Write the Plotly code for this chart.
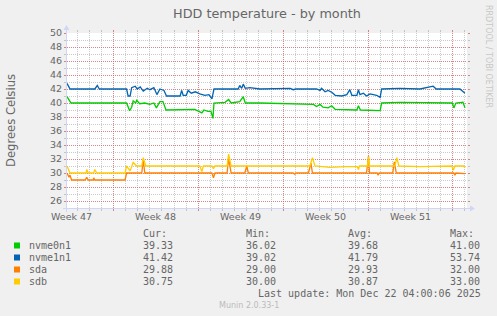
import plotly.graph_objects as go

# ---------------- layout constants ----------------
W, H = 497, 316
L, T, PW, PH = 67, 33, 400, 175
R = W - L - PW
B = H - T - PH

X_START = "2025-11-19 04:00"
X_END = "2025-12-22 04:00"
Y_MIN, Y_MAX = 25, 50

TITLE = "HDD temperature - by month"
Y_TITLE = "Degrees Celsius"
WATERMARK = "RRDTOOL / TOBI OETIKER"
FOOTER = "Munin 2.0.33-1"
LAST_UPDATE = "Last update: Mon Dec 22 04:00:06 2025"

# weekly (Sunday) major grid, label at mid-week
major_ticks = ["2025-11-23", "2025-11-30", "2025-12-07", "2025-12-14", "2025-12-21"]
week_label_pos = ["2025-11-19 12:00", "2025-11-26 12:00", "2025-12-03 12:00",
                  "2025-12-10 12:00", "2025-12-17 12:00"]
week_labels = ["Week 47", "Week 48", "Week 49", "Week 50", "Week 51"]
y_ticks = list(range(26, 51, 2))

# ---------------- data ----------------
names = ["nvme0n1", "nvme1n1", "sda", "sdb"]
colors = ["#00CC00", "#0066B3", "#FF8000", "#FFCC00"]
cur = [39.33, 41.42, 29.88, 30.75]
mins = [36.02, 39.02, 29.00, 30.00]
avgs = [39.68, 41.79, 29.93, 30.87]
maxs = [41.00, 53.74, 32.00, 33.00]

t_nvme0n1 = ["2025-11-19 04:00", "2025-11-19 12:00", "2025-11-24 02:00", "2025-11-24 04:00",
             "2025-11-24 08:00", "2025-11-24 12:00", "2025-11-24 15:00", "2025-11-24 20:00",
             "2025-11-24 22:00", "2025-11-25 04:00", "2025-11-25 14:00", "2025-11-26 00:00",
             "2025-11-26 08:00", "2025-11-26 13:00", "2025-11-26 20:00", "2025-11-27 02:00",
             "2025-11-27 08:00", "2025-11-29 17:00", "2025-11-30 07:00", "2025-11-30 11:00",
             "2025-11-30 19:00", "2025-12-01 01:00", "2025-12-01 05:00", "2025-12-01 07:00",
             "2025-12-02 05:00", "2025-12-02 12:00", "2025-12-02 17:00", "2025-12-03 10:00",
             "2025-12-03 17:00", "2025-12-03 21:00", "2025-12-05 02:00", "2025-12-09 12:00",
             "2025-12-09 18:00", "2025-12-10 01:00", "2025-12-10 07:00", "2025-12-10 17:00",
             "2025-12-11 00:00", "2025-12-11 07:00", "2025-12-13 02:00", "2025-12-13 05:00",
             "2025-12-13 09:00", "2025-12-15 00:00", "2025-12-15 03:00", "2025-12-16 15:00",
             "2025-12-20 23:00", "2025-12-21 02:00", "2025-12-21 06:00", "2025-12-21 20:00",
             "2025-12-22 00:00"]
v_nvme0n1 = [40.9, 40.0, 40.0, 39.6,
             38.9, 39.4, 40.3, 40.0,
             40.4, 39.9, 40.0, 39.8,
             40.0, 39.3, 40.2, 40.2,
             39.0, 39.1, 38.6, 39.0,
             38.8, 38.8, 37.8, 40.0,
             40.1, 40.5, 40.0, 40.2,
             40.9, 40.0, 40.0, 39.8,
             39.5, 39.8, 39.4, 39.3,
             39.6, 39.1, 39.0, 39.6,
             39.0, 38.9, 40.0, 40.1,
             40.0, 39.3, 40.0, 40.1,
             39.3]

t_nvme1n1 = ["2025-11-19 04:00", "2025-11-19 10:00", "2025-11-21 11:00", "2025-11-21 16:00",
             "2025-11-21 20:00", "2025-11-24 02:00", "2025-11-24 05:00", "2025-11-24 09:00",
             "2025-11-24 12:00", "2025-11-24 19:00", "2025-11-24 23:00", "2025-11-25 05:00",
             "2025-11-25 11:00", "2025-11-25 19:00", "2025-11-26 00:00", "2025-11-26 08:00",
             "2025-11-26 14:00", "2025-11-26 20:00", "2025-11-27 04:00", "2025-11-27 09:00",
             "2025-11-28 12:00", "2025-11-28 15:00", "2025-11-28 18:00", "2025-11-29 00:00",
             "2025-11-29 04:00", "2025-11-29 10:00", "2025-11-29 18:00", "2025-11-30 03:00",
             "2025-11-30 13:00", "2025-11-30 21:00", "2025-12-01 03:00", "2025-12-01 07:00",
             "2025-12-03 07:00", "2025-12-03 10:00", "2025-12-03 14:00", "2025-12-03 17:00",
             "2025-12-03 21:00", "2025-12-04 06:00", "2025-12-05 02:00", "2025-12-07 14:00",
             "2025-12-07 20:00", "2025-12-08 01:00", "2025-12-09 18:00", "2025-12-10 01:00",
             "2025-12-10 04:00", "2025-12-10 11:00", "2025-12-10 17:00", "2025-12-11 01:00",
             "2025-12-11 07:00", "2025-12-11 20:00", "2025-12-12 06:00", "2025-12-12 12:00",
             "2025-12-12 16:00", "2025-12-13 02:00", "2025-12-13 05:00", "2025-12-13 08:00",
             "2025-12-13 15:00", "2025-12-13 21:00", "2025-12-14 04:00", "2025-12-14 17:00",
             "2025-12-15 00:00", "2025-12-15 03:00", "2025-12-16 15:00", "2025-12-18 07:00",
             "2025-12-19 09:00", "2025-12-19 15:00", "2025-12-21 14:00", "2025-12-22 00:00"]
v_nvme1n1 = [42.8, 42.0, 42.0, 42.5,
             42.0, 42.0, 41.0, 41.0,
             42.2, 42.4, 42.0, 42.3,
             41.7, 42.1, 41.9, 42.2,
             41.2, 42.0, 41.8, 41.0,
             41.0, 41.8, 41.1, 41.1,
             41.8, 41.4, 41.6, 41.3,
             41.1, 41.2, 40.6, 42.0,
             42.0, 42.5, 42.1, 42.7,
             42.1, 42.2, 42.0, 42.1,
             41.9, 42.0, 42.0, 41.8,
             42.1, 41.6, 41.8, 41.5,
             41.1, 41.0, 41.2, 41.9,
             41.1, 41.1, 41.9, 41.2,
             41.4, 41.0, 41.3, 41.1,
             40.8, 42.0, 42.1, 42.0,
             42.4, 42.0, 42.0, 41.4]

t_sda = ["2025-11-19 04:00", "2025-11-19 08:00", "2025-11-19 10:00", "2025-11-19 13:00",
         "2025-11-20 16:00", "2025-11-20 19:00", "2025-11-20 22:00", "2025-11-21 08:00",
         "2025-11-21 09:00", "2025-11-21 11:00", "2025-11-23 23:00", "2025-11-24 02:00",
         "2025-11-25 08:00", "2025-11-25 11:00", "2025-11-25 14:00", "2025-12-01 03:00",
         "2025-12-01 06:00", "2025-12-01 09:00", "2025-12-02 09:00", "2025-12-02 12:00",
         "2025-12-02 17:00", "2025-12-03 20:00", "2025-12-04 00:00", "2025-12-04 03:00",
         "2025-12-07 20:00", "2025-12-07 23:00", "2025-12-08 01:00", "2025-12-09 02:00",
         "2025-12-09 07:00", "2025-12-09 10:00", "2025-12-13 21:00", "2025-12-14 01:00",
         "2025-12-14 03:00", "2025-12-14 18:00", "2025-12-14 20:00", "2025-12-14 22:00",
         "2025-12-16 01:00", "2025-12-16 04:00", "2025-12-16 08:00", "2025-12-21 02:00",
         "2025-12-21 04:00", "2025-12-21 06:00", "2025-12-22 00:00"]
v_sda = [30.0, 29.4, 29.7, 29.0,
         29.0, 29.4, 29.0, 29.0,
         29.3, 29.0, 29.0, 30.0,
         30.0, 31.9, 30.0, 30.0,
         29.3, 30.0, 30.0, 32.1,
         30.0, 30.0, 31.0, 30.0,
         30.0, 29.8, 30.0, 30.0,
         31.4, 30.0, 30.0, 32.4,
         30.0, 30.0, 29.7, 30.0,
         30.0, 31.6, 30.0, 30.0,
         29.7, 30.0, 29.9]

t_sdb = ["2025-11-19 04:00", "2025-11-19 10:00", "2025-11-20 18:00", "2025-11-20 19:00",
         "2025-11-20 22:00", "2025-11-21 09:00", "2025-11-21 11:00", "2025-11-21 15:00",
         "2025-11-23 21:00", "2025-11-23 23:00", "2025-11-24 02:00", "2025-11-24 09:00",
         "2025-11-24 15:00", "2025-11-24 22:00", "2025-11-25 08:00", "2025-11-25 11:00",
         "2025-11-25 16:00", "2025-11-30 03:00", "2025-11-30 07:00", "2025-11-30 10:00",
         "2025-12-01 03:00", "2025-12-01 06:00", "2025-12-01 09:00", "2025-12-02 09:00",
         "2025-12-02 12:00", "2025-12-02 17:00", "2025-12-09 05:00", "2025-12-09 10:00",
         "2025-12-09 15:00", "2025-12-10 21:00", "2025-12-12 03:00", "2025-12-13 03:00",
         "2025-12-13 05:00", "2025-12-13 07:00", "2025-12-13 23:00", "2025-12-14 01:00",
         "2025-12-14 03:00", "2025-12-16 05:00", "2025-12-16 09:00", "2025-12-16 13:00",
         "2025-12-18 07:00", "2025-12-20 22:00", "2025-12-21 01:00", "2025-12-21 04:00",
         "2025-12-21 21:00", "2025-12-22 00:00"]
v_sdb = [31.0, 30.0, 30.0, 30.5,
         30.0, 30.0, 30.5, 30.0,
         30.0, 30.0, 31.0, 30.3,
         31.5, 31.0, 31.0, 32.2,
         31.0, 31.0, 30.2, 31.0,
         31.0, 30.6, 31.0, 31.0,
         32.7, 31.0, 31.0, 32.2,
         31.0, 30.8, 30.9, 30.9,
         30.5, 31.0, 31.0, 32.3,
         31.0, 31.0, 32.2, 31.0,
         30.9, 31.0, 30.4, 31.0,
         31.0, 30.75]

series_t = [t_nvme0n1, t_nvme1n1, t_sda, t_sdb]
series_v = [v_nvme0n1, v_nvme1n1, v_sda, v_sdb]

# ---------------- style ----------------
BG = "#F0F0F0"
FONT_COLOR = "#666666"
AXIS_COLOR = "#CFD6F8"
MGRID = "rgba(222,79,79,0.55)"
GRID = "rgba(150,150,150,0.5)"
SANS = "DejaVu Sans"
MONO = "DejaVu Sans Mono"


def px(xp):
    return (xp - L) / PW


def py(yp):
    return (T + PH - yp) / PH


fig = go.Figure()
for n, c, tt, vv in zip(names, colors, series_t, series_v):
    fig.add_trace(go.Scatter(x=tt, y=vv, mode="lines", name=n,
                             line=dict(color=c, width=1.3), showlegend=False,
                             hoverinfo="skip"))

fig.update_layout(
    width=W, height=H,
    margin=dict(l=L, r=R, t=T, b=B, pad=0),
    paper_bgcolor=BG, plot_bgcolor="#FFFFFF",
    font=dict(family=SANS, color=FONT_COLOR, size=9.5),
    title=dict(text=TITLE, x=0.5, xref="paper", xanchor="center",
               y=1 - 13.3 / H, yref="container", yanchor="middle",
               font=dict(family=SANS, size=12.8, color=FONT_COLOR)),
    xaxis=dict(type="date", range=[X_START, X_END], showline=False, zeroline=False,
               tickmode="array", tickvals=major_ticks, showticklabels=False,
               showgrid=True, gridcolor=MGRID, griddash="1px,1px", gridwidth=1,
               ticks="outside", ticklen=2, tickcolor=MGRID, mirror="ticks",
               minor=dict(dtick=86400000, tick0="2025-11-20 00:00", showgrid=True,
                          gridcolor=GRID, griddash="1px,1px", gridwidth=1,
                          ticks="outside", ticklen=2, tickcolor=GRID)),
    yaxis=dict(range=[Y_MIN, Y_MAX], showline=False, zeroline=False,
               tickmode="array", tickvals=y_ticks,
               showgrid=True, gridcolor=MGRID, griddash="1px,1px", gridwidth=1,
               ticks="outside", ticklen=2, tickcolor=MGRID, mirror="ticks",
               tickfont=dict(family=SANS, size=9.5, color=FONT_COLOR),
               minor=dict(dtick=1, tick0=25, showgrid=True, gridcolor=GRID,
                          griddash="1px,1px", gridwidth=1,
                          ticks="outside", ticklen=2, tickcolor=GRID)),
)

# axis lines with arrows (rrdtool style)
shapes = [
    dict(type="line", xref="paper", yref="paper", x0=px(63), x1=px(471),
         y0=py(208.5), y1=py(208.5), line=dict(color=AXIS_COLOR, width=1)),
    dict(type="line", xref="paper", yref="paper", x0=px(66.5), x1=px(66.5),
         y0=py(212), y1=py(29), line=dict(color=AXIS_COLOR, width=1)),
    dict(type="path", xref="paper", yref="paper",
         path=f"M {px(475)} {py(208.5)} L {px(470)} {py(205.5)} L {px(470)} {py(211.5)} Z",
         fillcolor=AXIS_COLOR, line=dict(color=AXIS_COLOR, width=0)),
    dict(type="path", xref="paper", yref="paper",
         path=f"M {px(66.5)} {py(25)} L {px(63.5)} {py(30)} L {px(69.5)} {py(30)} Z",
         fillcolor=AXIS_COLOR, line=dict(color=AXIS_COLOR, width=0)),
]

ann = []
# week labels on the time axis (centered mid-week)
for wp, wl in zip(week_label_pos, week_labels):
    ann.append(dict(text=wl, xref="x", yref="paper", x=wp, y=py(216.5),
                    xanchor="center", yanchor="middle", showarrow=False,
                    font=dict(family=SANS, size=9.5, color=FONT_COLOR)))
# y-axis title
ann.append(dict(text=Y_TITLE, xref="paper", yref="paper", x=px(10.5), y=0.5,
                xanchor="center", yanchor="middle", textangle=-90, showarrow=False,
                font=dict(family=SANS, size=11.6, color=FONT_COLOR)))
# watermark
ann.append(dict(text=WATERMARK, xref="paper", yref="paper", x=px(488.5), y=py(56.5),
                xanchor="center", yanchor="middle", textangle=90, showarrow=False,
                font=dict(family=SANS, size=8, color="#C8C8C8")))

# legend table
col_x = [140.7, 243.7, 346.0, 447.7]
headers = ["Cur:", "Min:", "Avg:", "Max:"]
header_y = 233.3
row_y0, row_dy = 245.5, 12.0
mono = dict(family=MONO, size=10, color=FONT_COLOR)
for hx, htxt in zip(col_x, headers):
    ann.append(dict(text=htxt, xref="paper", yref="paper", x=px(hx), y=py(header_y),
                    xanchor="left", yanchor="middle", showarrow=False, font=mono))
for i, n in enumerate(names):
    yy = row_y0 + i * row_dy
    shapes.append(dict(type="rect", xref="paper", yref="paper",
                       x0=px(14), x1=px(20), y0=py(yy - 3), y1=py(yy + 3),
                       fillcolor=colors[i], line=dict(width=0)))
    ann.append(dict(text=n, xref="paper", yref="paper", x=px(26.7), y=py(yy),
                    xanchor="left", yanchor="middle", showarrow=False, font=mono))
    for cx, vals in zip(col_x, [cur, mins, avgs, maxs]):
        ann.append(dict(text=f"{vals[i]:.2f}", xref="paper", yref="paper", x=px(cx),
                        y=py(yy), xanchor="left", yanchor="middle", showarrow=False,
                        font=mono))
ann.append(dict(text=LAST_UPDATE, xref="paper", yref="paper", x=px(483.3), y=py(293.7),
                xanchor="right", yanchor="middle", showarrow=False, font=mono))
ann.append(dict(text=FOOTER, xref="paper", yref="paper", x=px(248.5), y=py(305.3),
                xanchor="center", yanchor="middle", showarrow=False,
                font=dict(family=SANS, size=8, color="#BBBBBB")))

fig.update_layout(shapes=shapes, annotations=ann)
fig.write_html("out.html", config=dict(displayModeBar=False))
